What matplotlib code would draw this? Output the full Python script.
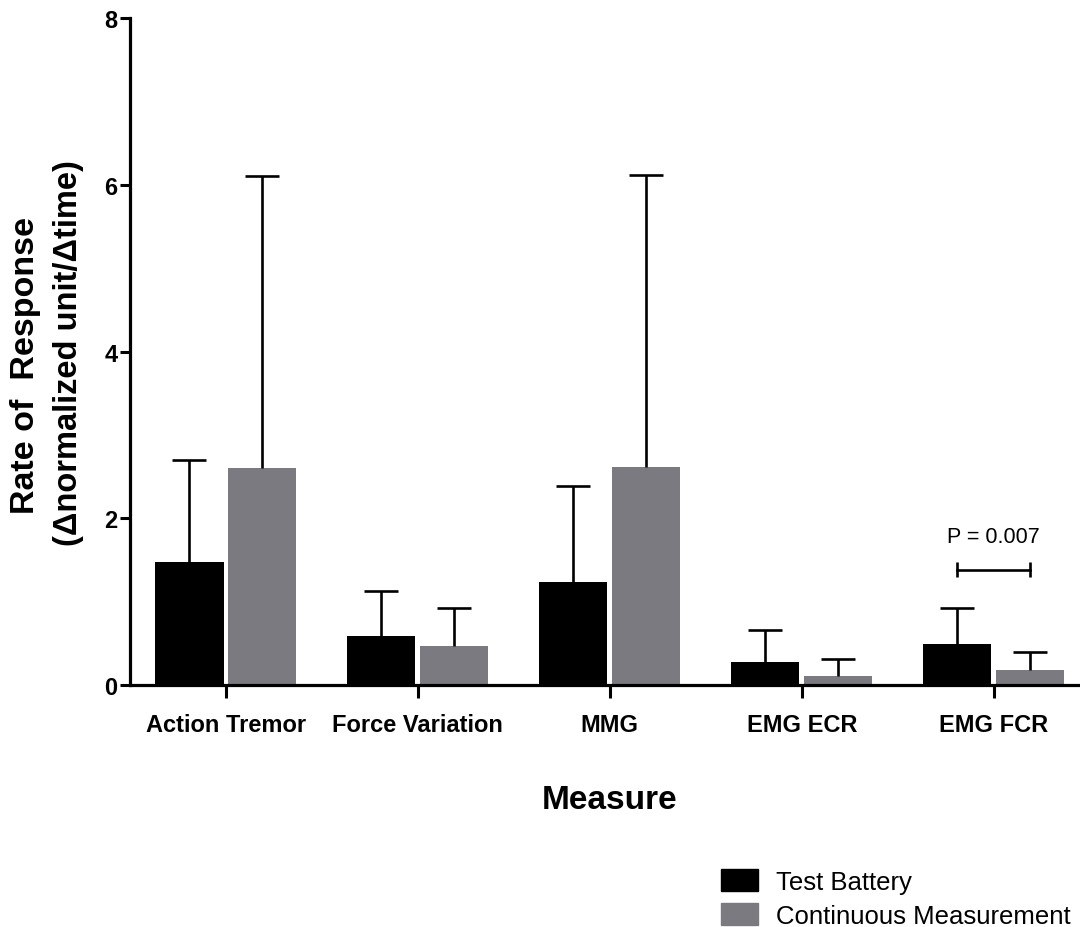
import numpy as np
import matplotlib
matplotlib.use("Agg")
import matplotlib.pyplot as plt
from matplotlib.patches import Patch

plt.rcParams["font.family"] = ["Liberation Sans", "DejaVu Sans"]

measures = ["Action Tremor", "Force Variation", "MMG", "EMG ECR", "EMG FCR"]
battery_mean = [1.47, 0.59, 1.24, 0.28, 0.49]
battery_sd = [1.23, 0.54, 1.15, 0.38, 0.43]
continuous_mean = [2.60, 0.47, 2.61, 0.11, 0.18]
continuous_sd = [3.50, 0.45, 3.51, 0.20, 0.21]
series_names = ["Test Battery", "Continuous Measurement"]
p_label = "P = 0.007"
p_bracket_y = 1.38

BLACK = "#000000"
GREY = "#7b7a80"

fig = plt.figure(figsize=(10.8, 9.28), dpi=100)
ax = fig.add_axes([130 / 1080, 1 - 686 / 928, 1 - 130 / 1080, (686 - 19) / 928])

x = np.arange(len(measures))
w = 0.355
off = 0.19
LW = 1.9


def upper_errbars(xpos, mean, sd):
    mean = np.asarray(mean)
    top = mean + np.asarray(sd)
    ax.vlines(xpos, mean, top, color="black", lw=LW, zorder=3)
    ax.plot(xpos, top, ls="none", marker="_", ms=25, mew=LW, color="black", zorder=3)


ax.bar(x - off, battery_mean, w, color=BLACK, zorder=2)
ax.bar(x + off, continuous_mean, w, color=GREY, zorder=2)
upper_errbars(x - off, battery_mean, battery_sd)
upper_errbars(x + off, continuous_mean, continuous_sd)

# significance bracket on EMG FCR
i = measures.index("EMG FCR")
ax.plot([i - off, i + off], [p_bracket_y, p_bracket_y], color="black", lw=LW)
ax.vlines([i - off, i + off], p_bracket_y - 0.09, p_bracket_y + 0.09, color="black", lw=LW)
ax.text(i, p_bracket_y + 0.28, p_label, ha="center", va="bottom", fontsize=15.5)

ax.set_xlim(-0.5, 4.45)
ax.set_ylim(0, 8)
ax.set_yticks([0, 2, 4, 6, 8])
ax.set_xticks(x)
ax.set_xticklabels(measures, fontsize=17, fontweight="bold")
for lab in ax.get_yticklabels():
    lab.set_fontweight("bold")
ax.tick_params(axis="y", labelsize=17, width=2.2, length=7, direction="out", pad=2)
ax.tick_params(axis="x", width=2.2, length=9, direction="out", pad=11)
for s in ["top", "right"]:
    ax.spines[s].set_visible(False)
for s in ["left", "bottom"]:
    ax.spines[s].set_linewidth(2.3)

ax.set_xlabel("Measure", fontsize=24, fontweight="bold", labelpad=35)
ax.xaxis.label.set_x(0.505)

fig.text(26 / 1080, 1 - 366 / 928, "Rate of  Response", rotation=90,
         ha="center", va="center", fontsize=24.5, fontweight="bold")
fig.text(69 / 1080, 1 - 353 / 928, "(\u0394normalized unit/\u0394time)", rotation=90,
         ha="center", va="center", fontsize=23.5, fontweight="bold")

handles = [Patch(color=BLACK), Patch(color=GREY)]
fig.legend(handles, series_names, loc="lower right", bbox_to_anchor=(1.013, -0.026),
           frameon=False, fontsize=18.5, handlelength=1.45, handleheight=0.95,
           handletextpad=0.7, labelspacing=0.35)

fig.savefig("out.png", dpi=100)
